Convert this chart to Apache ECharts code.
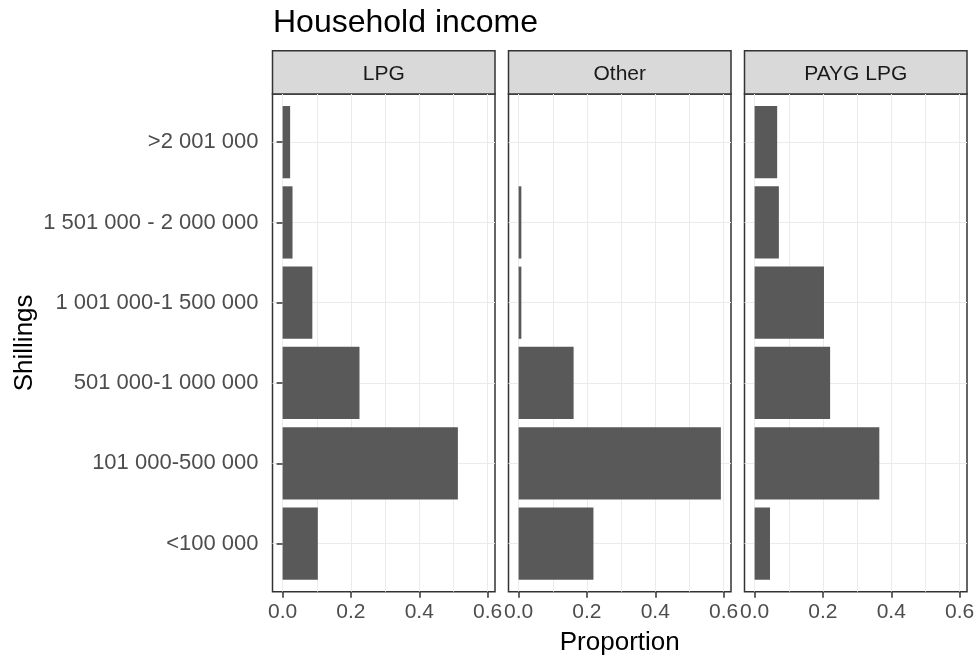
<!DOCTYPE html>
<html><head><meta charset="utf-8">
<script src="https://cdn.jsdelivr.net/npm/echarts@6/dist/echarts.min.js"></script>
<style>html,body{margin:0;padding:0;background:#fff}#c{width:979px;height:663px}</style>
</head><body><div id="c"></div><script>
// ---- data ----
const categories = ['<100 000', '101 000-500 000', '501 000-1 000 000', '1 001 000-1 500 000', '1 501 000 - 2 000 000', '>2 001 000'];
const panels = ['LPG', 'Other', 'PAYG LPG'];
const lpgValues = [0.103, 0.513, 0.225, 0.087, 0.029, 0.022];
const otherValues = [0.219, 0.592, 0.161, 0.008, 0.008, 0];
const paygValues = [0.045, 0.365, 0.221, 0.203, 0.071, 0.066];
const xTickValues = [0, 0.2, 0.4, 0.6];
const titleText = 'Household income';
const xTitle = 'Proportion';
const yTitle = 'Shillings';

const seriesValues = [lpgValues, otherValues, paygValues];

// ---- layout ----
const FONT = 'Liberation Sans, Arial, sans-serif';
const PL = [272.5, 508.5, 744.5];
const PW = 222.5;
const PT = 94, PH = 497.7, ST = 50.7;
const XMIN = -0.0296, XMAX = 0.6216;
const unit = PH / (categories.length + 0.2);
const inset = 0.1 * unit;
const xLo = xTickValues[0], xHi = xTickValues[xTickValues.length - 1];

const grids = [], xAxes = [], yAxes = [], series = [];
const gridLine = { show: true, lineStyle: { color: '#EBEBEB', width: 1 }, showMinLine: false, showMaxLine: false };
const tickStyle = { color: '#333333', width: 1.5 };

// frame grids 0..2
panels.forEach((p, i) => {
  grids.push({ left: PL[i], top: PT, width: PW, height: PH, show: true, backgroundColor: '#ffffff', borderColor: '#333333', borderWidth: 1.5 });
  xAxes.push({
    gridIndex: i, type: 'value', min: XMIN, max: XMAX, splitNumber: 6,
    axisLine: { show: false }, axisTick: { show: false }, axisLabel: { show: false },
    splitLine: gridLine,
    name: i === 1 ? xTitle : '', nameLocation: 'middle', nameGap: 38,
    nameTextStyle: { fontSize: 26, color: '#000000', fontFamily: FONT }
  });
  yAxes.push({
    gridIndex: i, type: 'value', min: 0.4, max: categories.length + 0.6, splitNumber: 6,
    axisLine: { show: false }, axisTick: { show: false }, axisLabel: { show: false },
    splitLine: gridLine,
    name: i === 0 ? yTitle : '', nameLocation: 'middle', nameGap: 235,
    nameTextStyle: { fontSize: 26, color: '#000000', fontFamily: FONT }
  });
});
// data grids 3..5
panels.forEach((p, i) => {
  const left = PL[i] + (xLo - XMIN) / (XMAX - XMIN) * PW;
  const width = (xHi - xLo) / (XMAX - XMIN) * PW;
  grids.push({ left: left, top: PT + inset, width: width, height: PH - 2 * inset, show: false });
  xAxes.push({
    gridIndex: 3 + i, type: 'value', min: xLo, max: xHi, interval: 0.2, offset: inset,
    axisLine: { show: false },
    axisTick: { show: true, length: 6, lineStyle: tickStyle },
    axisLabel: { color: '#4D4D4D', fontSize: 21, fontFamily: FONT, margin: 10, formatter: v => v.toFixed(1) },
    splitLine: { show: false }
  });
  yAxes.push({
    gridIndex: 3 + i, type: 'category', data: categories, boundaryGap: true, offset: left - PL[i],
    axisLine: { show: false },
    axisTick: { show: i === 0, alignWithLabel: true, length: 6, lineStyle: tickStyle },
    axisLabel: { show: i === 0, color: '#4D4D4D', fontSize: 22, fontFamily: FONT, margin: 14 },
    splitLine: { show: false }
  });
  series.push({
    type: 'bar', xAxisIndex: 3 + i, yAxisIndex: 3 + i, data: seriesValues[i],
    barWidth: '90%', itemStyle: { color: '#595959' }, z: 3, silent: true
  });
});
// strip grids 6..8
panels.forEach((p, i) => {
  grids.push({ left: PL[i], top: ST, width: PW, height: PT - ST, show: true, backgroundColor: '#D9D9D9', borderColor: '#333333', borderWidth: 1.5 });
  xAxes.push({
    gridIndex: 6 + i, type: 'category', data: [p], position: 'top',
    axisLine: { show: false }, axisTick: { show: false }, splitLine: { show: false },
    axisLabel: { inside: true, margin: (PT - ST) / 2 + 2, verticalAlign: 'middle', color: '#1A1A1A', fontSize: 21, fontFamily: FONT }
  });
  yAxes.push({ gridIndex: 6 + i, type: 'value', show: false });
});

const chart = echarts.init(document.getElementById('c'), null, { renderer: 'canvas' });
chart.setOption({
  animation: false,
  backgroundColor: '#ffffff',
  title: { text: titleText, left: 273, top: 7, padding: 0, textStyle: { fontSize: 32, fontWeight: 'normal', color: '#000000', fontFamily: FONT } },
  grid: grids, xAxis: xAxes, yAxis: yAxes, series: series
});
</script></body></html>
